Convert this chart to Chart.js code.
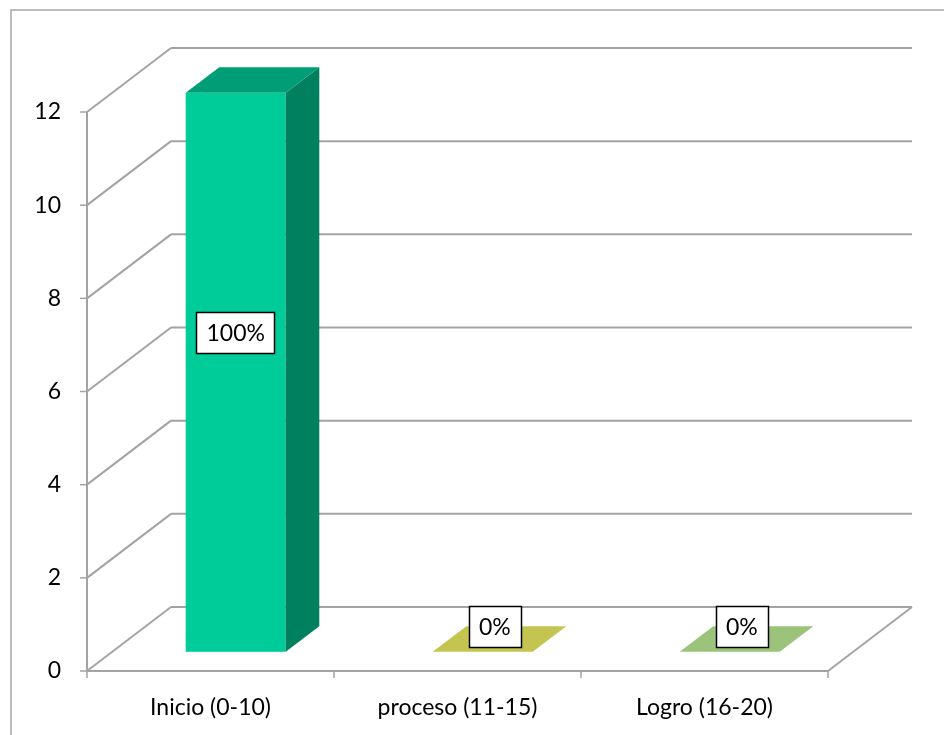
<!DOCTYPE html>
<html>
<head>
<meta charset="utf-8">
<script src="https://cdn.jsdelivr.net/npm/chart.js@4/dist/chart.umd.min.js"></script>
<style>
  html, body { margin: 0; padding: 0; background: #ffffff; }
  #wrap { width: 944px; height: 735px; position: relative; }
</style>
</head>
<body>
<div id="wrap"><canvas id="chart" width="944" height="735"></canvas></div>
<script>
// Categories and counts per achievement level
const categories = ['Inicio (0-10)', 'proceso (11-15)', 'Logro (16-20)'];
const counts = [12, 0, 0];
const yTickStep = 2;
const yMax = 12;

// Face colours for each bar: front, top, right side
const frontColors = ['#00cc99', '#c4c450', '#9bc37a'];
const topColors   = ['#009e76', '#c4c450', '#9bc37a'];
const sideColors  = ['#00805f', '#a6a640', '#82a866'];

// Percent labels derived from the counts
const total = counts.reduce((s, v) => s + v, 0);
const percentLabels = counts.map(v => Math.round(v / total * 100) + '%');

// Projection of the depth axis (full floor depth) in pixels
const DX = 84, DY = -64;
const BAR_FRONT = 0.3, BAR_BACK = 0.7;
const GRID = '#a3a3a3';
const FONT = "'Lato', 'Open Sans', sans-serif";
const FONT_SIZE = 23;

function line(ctx, x1, y1, x2, y2) {
  ctx.beginPath(); ctx.moveTo(x1, y1); ctx.lineTo(x2, y2); ctx.stroke();
}

const depthPlugin = {
  id: 'depth3d',
  beforeDraw(chart) {
    const ctx = chart.ctx;
    ctx.save();
    ctx.strokeStyle = '#a6a6a6';
    ctx.lineWidth = 1.5;
    ctx.beginPath();
    ctx.moveTo(11, 735); ctx.lineTo(11, 10); ctx.lineTo(944, 10);
    ctx.stroke();
    ctx.restore();
  },
  beforeDatasetsDraw(chart) {
    const { ctx, chartArea: a, scales: { x, y } } = chart;
    ctx.save();
    ctx.strokeStyle = GRID;
    ctx.lineWidth = 2;
    ctx.lineCap = 'butt';
    // back wall and side wall grid lines
    y.ticks.forEach(t => {
      const py = y.getPixelForValue(t.value);
      line(ctx, a.left + DX, py + DY, a.right + DX, py + DY);
      line(ctx, a.left, py, a.left + DX, py + DY);
    });
    // front edge of the side wall
    const p0 = y.getPixelForValue(0);
    line(ctx, a.left, y.getPixelForValue(y.max), a.left, p0);
    // floor front and right edges
    line(ctx, a.left, p0, a.right, p0);
    line(ctx, a.right, p0, a.right + DX, p0 + DY);
    // tick marks
    ctx.lineWidth = 1.5;
    y.ticks.forEach(t => {
      const py = y.getPixelForValue(t.value);
      line(ctx, a.left - 7, py, a.left, py);
    });
    const n = categories.length;
    for (let i = 0; i <= n; i++) {
      const px = x.getPixelForValue(i - 0.5);
      line(ctx, px, p0, px, p0 + 7);
    }
    ctx.restore();
  },
  afterDatasetsDraw(chart) {
    const { ctx, scales: { y } } = chart;
    const meta = chart.getDatasetMeta(0);
    const fdx = DX * BAR_FRONT, fdy = DY * BAR_FRONT;
    const ddx = DX * (BAR_BACK - BAR_FRONT), ddy = DY * (BAR_BACK - BAR_FRONT);
    ctx.save();
    meta.data.forEach((el, i) => {
      const p = el.getProps(['x', 'y', 'base', 'width'], true);
      const xl = p.x - p.width / 2 + fdx, xr = p.x + p.width / 2 + fdx;
      const yt = p.y + fdy, yb = p.base + fdy;
      // front face
      if (yb - yt > 0.5) {
        ctx.fillStyle = frontColors[i];
        ctx.fillRect(xl, yt, xr - xl, yb - yt);
        // right side
        ctx.fillStyle = sideColors[i];
        ctx.beginPath();
        ctx.moveTo(xr, yt); ctx.lineTo(xr + ddx, yt + ddy);
        ctx.lineTo(xr + ddx, yb + ddy); ctx.lineTo(xr, yb);
        ctx.closePath(); ctx.fill();
      }
      // top face
      ctx.fillStyle = topColors[i];
      ctx.beginPath();
      ctx.moveTo(xl, yt); ctx.lineTo(xr, yt);
      ctx.lineTo(xr + ddx, yt + ddy); ctx.lineTo(xl + ddx, yt + ddy);
      ctx.closePath(); ctx.fill();
    });
    // value labels in boxes
    ctx.font = FONT_SIZE + 'px ' + FONT;
    ctx.textAlign = 'center';
    ctx.textBaseline = 'middle';
    const fullH = y.getPixelForValue(0) - y.getPixelForValue(y.max);
    meta.data.forEach((el, i) => {
      const p = el.getProps(['x', 'y', 'base'], true);
      const h = p.base - p.y;
      const cx = p.x + fdx + ddx * 0.36 * (1 - h / fullH);
      const cy = p.base + fdy + ddy - h * 0.525;
      const txt = percentLabels[i];
      const w = ctx.measureText(txt).width + 20;
      const bh = 41;
      ctx.fillStyle = '#ffffff';
      ctx.fillRect(Math.round(cx - w / 2) + 0.5, Math.round(cy - bh / 2) + 0.5, Math.round(w), bh);
      ctx.strokeStyle = '#000000';
      ctx.lineWidth = 1.5;
      ctx.strokeRect(Math.round(cx - w / 2) + 0.5, Math.round(cy - bh / 2) + 0.5, Math.round(w), bh);
      ctx.fillStyle = '#000000';
      ctx.fillText(txt, cx, cy + 1);
    });
    ctx.restore();
  }
};

new Chart(document.getElementById('chart'), {
  type: 'bar',
  data: {
    labels: categories,
    datasets: [{
      data: counts,
      backgroundColor: 'rgba(0,0,0,0)',
      borderWidth: 0,
      barPercentage: 100 / 247,
      categoryPercentage: 1
    }]
  },
  options: {
    responsive: false,
    devicePixelRatio: 1,
    animation: false,
    events: [],
    layout: { padding: { top: 112, right: 116, left: 0, bottom: 0 } },
    plugins: { legend: { display: false }, tooltip: { enabled: false } },
    scales: {
      x: {
        grid: { display: false, drawTicks: false },
        border: { display: false },
        ticks: { color: '#000000', padding: 23, font: { family: FONT, size: FONT_SIZE } },
        afterFit(s) { s.height = 64; }
      },
      y: {
        min: 0,
        max: yMax,
        grid: { display: false, drawTicks: false },
        border: { display: false },
        ticks: { stepSize: yTickStep, color: '#000000', padding: 26, font: { family: FONT, size: FONT_SIZE } },
        afterFit(s) { s.width = 87; }
      }
    }
  },
  plugins: [depthPlugin]
});
</script>
</body>
</html>
